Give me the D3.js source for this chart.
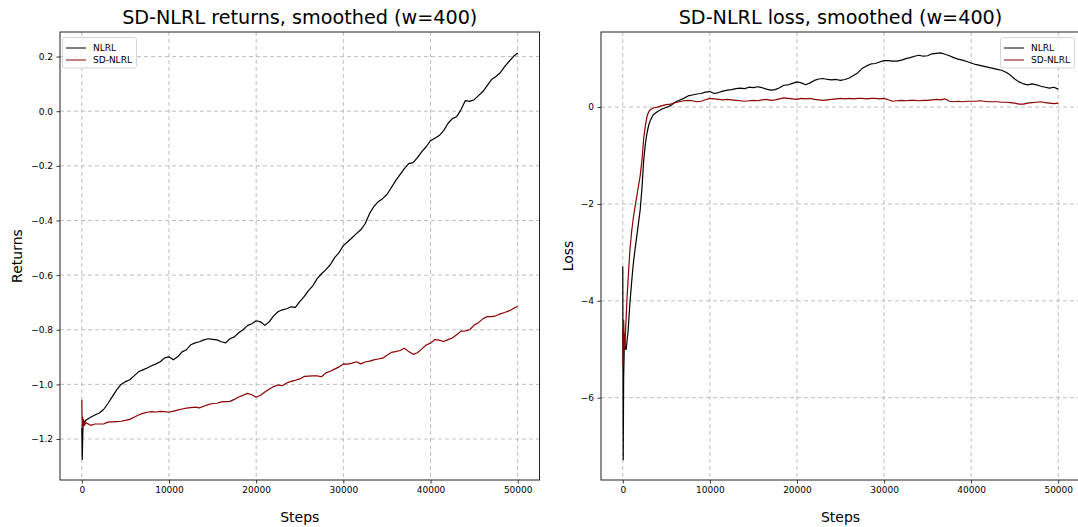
<!DOCTYPE html>
<html><head><meta charset="utf-8">
<script src="https://cdn.jsdelivr.net/npm/d3@7"></script>
<style>body{margin:0;background:#fff}svg{display:block;font-family:"DejaVu Sans",sans-serif}</style>
</head><body><svg id="c" width="1078" height="527"></svg>
<script>
// ---- data ----
const seriesNames = ["NLRL", "SD-NLRL"];
const seriesColors = ["#000000", "#8b0000"];
const xTicks = [0, 10000, 20000, 30000, 40000, 50000];
const returnTicks = [-1.2, -1.0, -0.8, -0.6, -0.4, -0.2, 0.0, 0.2];
const lossTicks = [-6, -4, -2, 0];

const returnSteps = [0,50,100,150,200,300,500,1000,1500,2000,2500,3000,3500,4000,4500,5000,5500,6000,6500,7000,7500,8000,8500,9000,9500,10000,10500,11000,11500,12000,12500,13000,13500,14000,14500,15000,15500,16000,16500,17000,17500,18000,18500,19000,19500,20000,20500,21000,21500,22000,22500,23000,23500,24000,24500,25000,25500,26000,26500,27000,27500,28000,28500,29000,29500,30000,30500,31000,31500,32000,32500,33000,33500,34000,34500,35000,35500,36000,36500,37000,37500,38000,38500,39000,39500,40000,40500,41000,41500,42000,42500,43000,43500,44000,44500,45000,45500,46000,46500,47000,47500,48000,48500,49000,49500,50000];
const returnsNLRL = [-1.16,-1.275,-1.20,-1.14,-1.13,-1.14,-1.13,-1.12,-1.112,-1.105,-1.092,-1.07,-1.045,-1.02,-1.0,-0.99,-0.983,-0.969,-0.954,-0.947,-0.94,-0.932,-0.925,-0.917,-0.903,-0.899,-0.910,-0.899,-0.881,-0.873,-0.855,-0.848,-0.844,-0.837,-0.833,-0.835,-0.837,-0.844,-0.848,-0.833,-0.826,-0.811,-0.800,-0.785,-0.778,-0.767,-0.771,-0.784,-0.771,-0.749,-0.734,-0.727,-0.723,-0.716,-0.718,-0.697,-0.679,-0.657,-0.639,-0.613,-0.595,-0.580,-0.562,-0.536,-0.518,-0.492,-0.478,-0.463,-0.448,-0.434,-0.412,-0.375,-0.349,-0.331,-0.320,-0.305,-0.280,-0.254,-0.232,-0.210,-0.192,-0.188,-0.170,-0.148,-0.130,-0.108,-0.099,-0.089,-0.071,-0.045,-0.027,-0.020,0.006,0.039,0.036,0.042,0.057,0.072,0.094,0.116,0.127,0.141,0.163,0.182,0.200,0.213];
const returnsSD = [-1.056,-1.16,-1.12,-1.15,-1.13,-1.15,-1.14,-1.15,-1.145,-1.145,-1.145,-1.138,-1.137,-1.136,-1.135,-1.132,-1.128,-1.120,-1.112,-1.106,-1.102,-1.100,-1.101,-1.099,-1.100,-1.102,-1.098,-1.094,-1.090,-1.087,-1.085,-1.083,-1.086,-1.080,-1.074,-1.070,-1.069,-1.064,-1.063,-1.062,-1.055,-1.046,-1.040,-1.033,-1.038,-1.047,-1.040,-1.028,-1.018,-1.008,-1.002,-1.005,-0.995,-0.989,-0.985,-0.980,-0.971,-0.970,-0.969,-0.969,-0.972,-0.958,-0.952,-0.944,-0.936,-0.925,-0.926,-0.922,-0.917,-0.925,-0.918,-0.915,-0.910,-0.907,-0.904,-0.893,-0.883,-0.880,-0.876,-0.868,-0.880,-0.890,-0.884,-0.870,-0.856,-0.849,-0.836,-0.838,-0.843,-0.836,-0.830,-0.818,-0.805,-0.804,-0.800,-0.783,-0.774,-0.760,-0.752,-0.752,-0.749,-0.742,-0.737,-0.731,-0.722,-0.714];

const lossSteps = [0,50,100,200,300,400,500,600,800,1000,1200,1400,1600,1800,2000,2200,2400,2600,2800,3000,3200,3500,4000,4500,5000,5500,6000,6500,7000,7500,8000,8500,9000,9500,10000,10500,11000,11500,12000,12500,13000,13500,14000,14500,15000,15500,16000,16500,17000,17500,18000,18500,19000,19500,20000,20500,21000,21500,22000,22500,23000,23500,24000,24500,25000,25500,26000,26500,27000,27500,28000,28500,29000,29500,30000,30500,31000,31500,32000,32500,33000,33500,34000,34500,35000,35500,36000,36500,37000,37500,38000,38500,39000,39500,40000,40500,41000,41500,42000,42500,43000,43500,44000,44500,45000,45500,46000,46500,47000,47500,48000,48500,49000,49500,50000];
const lossNLRL = [-3.29,-7.28,-5.6,-4.7,-5.0,-5.0,-4.8,-4.65,-4.1,-3.65,-3.25,-2.95,-2.68,-2.4,-2.12,-1.68,-1.1,-0.75,-0.52,-0.36,-0.26,-0.16,-0.09,-0.04,-0.01,0.03,0.10,0.14,0.18,0.23,0.25,0.27,0.28,0.31,0.32,0.28,0.30,0.33,0.35,0.36,0.38,0.39,0.38,0.41,0.40,0.42,0.40,0.37,0.35,0.36,0.40,0.45,0.46,0.49,0.52,0.50,0.46,0.50,0.55,0.58,0.59,0.57,0.56,0.57,0.55,0.57,0.60,0.65,0.71,0.80,0.85,0.89,0.90,0.93,0.96,0.96,0.95,0.95,0.97,1.00,1.02,1.05,1.07,1.05,1.06,1.10,1.11,1.12,1.09,1.06,1.02,0.99,0.97,0.94,0.91,0.88,0.86,0.84,0.82,0.80,0.78,0.76,0.72,0.66,0.58,0.52,0.48,0.46,0.48,0.46,0.43,0.41,0.39,0.41,0.37];
const lossSD = [-4.6,-5.35,-4.4,-5.0,-4.7,-4.3,-3.9,-3.6,-3.0,-2.6,-2.3,-2.07,-1.85,-1.63,-1.42,-1.1,-0.65,-0.38,-0.18,-0.09,-0.05,-0.02,0.0,0.03,0.05,0.06,0.09,0.11,0.13,0.14,0.13,0.11,0.12,0.15,0.18,0.17,0.16,0.15,0.16,0.15,0.14,0.13,0.12,0.13,0.14,0.13,0.15,0.16,0.14,0.15,0.17,0.19,0.18,0.17,0.16,0.18,0.17,0.18,0.16,0.15,0.14,0.15,0.16,0.17,0.18,0.17,0.18,0.17,0.18,0.18,0.17,0.18,0.18,0.17,0.18,0.15,0.12,0.13,0.14,0.13,0.14,0.14,0.13,0.14,0.14,0.15,0.16,0.15,0.17,0.12,0.11,0.12,0.11,0.12,0.12,0.12,0.13,0.12,0.11,0.11,0.11,0.10,0.10,0.09,0.08,0.06,0.06,0.08,0.09,0.10,0.11,0.09,0.08,0.07,0.08];

// ---- drawing ----
const svg = d3.select("#c");
const fmtMinus = s => s.replace("-", "\u2212");

function panel(opt) {
  const x = d3.scaleLinear().domain([-2500, 52500]).range([opt.x0, opt.x1]);
  const y = d3.scaleLinear().domain(opt.yDomain).range([opt.y1, opt.y0]);
  const g = svg.append("g");
  const clipId = "clip" + opt.id;
  svg.append("clipPath").attr("id", clipId).append("rect")
    .attr("x", opt.x0).attr("y", opt.y0).attr("width", opt.x1 - opt.x0).attr("height", opt.y1 - opt.y0);
  // grid
  const grid = g.append("g").attr("clip-path", `url(#${clipId})`);
  grid.selectAll(".gx").data(xTicks).join("line")
    .attr("x1", d => x(d)).attr("x2", d => x(d)).attr("y1", opt.y0).attr("y2", opt.y1)
    .attr("stroke", "#b8b8b8").attr("stroke-width", 0.9).attr("stroke-dasharray", "4,3");
  grid.selectAll(".gy").data(opt.yTicks).join("line")
    .attr("x1", opt.x0).attr("x2", opt.x1).attr("y1", d => y(d)).attr("y2", d => y(d))
    .attr("stroke", "#b8b8b8").attr("stroke-width", 0.9).attr("stroke-dasharray", "4,3");
  // lines
  const line = d3.line().x((d, i) => x(opt.steps[i])).y(d => y(d));
  const lines = g.append("g").attr("clip-path", `url(#${clipId})`);
  opt.series.forEach((s, i) => {
    lines.append("path").datum(s).attr("d", line).attr("fill", "none")
      .attr("stroke", seriesColors[i]).attr("stroke-width", 1.2).attr("stroke-linejoin", "round");
  });
  // axes
  const xa = g.append("g").attr("transform", `translate(0,${opt.y1})`)
    .call(d3.axisBottom(x).tickValues(xTicks).tickSize(3.5).tickPadding(3.5).tickFormat(d3.format("d")));
  const ya = g.append("g").attr("transform", `translate(${opt.x0},0)`)
    .call(d3.axisLeft(y).tickValues(opt.yTicks).tickSize(3.5).tickPadding(3.5).tickFormat(d => fmtMinus(opt.fmt(d))));
  [xa, ya].forEach(a => {
    a.select(".domain").remove();
    a.selectAll("text").attr("font-size", 9).attr("fill", "#000").attr("font-family", "DejaVu Sans");
    a.selectAll("line").attr("stroke", "#000").attr("stroke-width", 0.8);
  });
  // frame
  g.append("rect").attr("x", opt.x0).attr("y", opt.y0).attr("width", opt.x1 - opt.x0).attr("height", opt.y1 - opt.y0)
    .attr("fill", "none").attr("stroke", "#222").attr("stroke-width", 1);
  // title & labels
  g.append("text").attr("x", (opt.x0 + opt.x1) / 2).attr("y", 24).attr("text-anchor", "middle")
    .attr("font-size", 19.2).text(opt.title);
  g.append("text").attr("x", (opt.x0 + opt.x1) / 2).attr("y", 522).attr("text-anchor", "middle")
    .attr("font-size", 14).text("Steps");
  g.append("text").attr("transform", `translate(${opt.ylabX},${(opt.y0 + opt.y1) / 2}) rotate(-90)`)
    .attr("text-anchor", "middle").attr("font-size", 14).text(opt.ylabel);
  // legend
  const lg = g.append("g").attr("transform", `translate(${opt.legX},${opt.y0 + 5.5})`);
  lg.append("rect").attr("x", 0).attr("y", 0).attr("width", 74).attr("height", 30.5).attr("rx", 2)
    .attr("fill", "#fff").attr("fill-opacity", 0.8).attr("stroke", "#ccc").attr("stroke-width", 0.8);
  seriesNames.forEach((n, i) => {
    const yy = 10.5 + i * 12;
    lg.append("line").attr("x1", 3.5).attr("x2", 23.5).attr("y1", yy).attr("y2", yy)
      .attr("stroke", seriesColors[i]).attr("stroke-width", 1);
    lg.append("text").attr("x", 30.5).attr("y", yy + 3.2).attr("font-size", 9).text(n);
  });
}

panel({id: "a", x0: 60, x1: 539.5, y0: 32, y1: 480, yDomain: [-1.35, 0.29], yTicks: returnTicks,
  fmt: d3.format(".1f"), steps: returnSteps, series: [returnsNLRL, returnsSD],
  title: "SD-NLRL returns, smoothed (w=400)", ylabel: "Returns", ylabX: 22, legX: 62.5});
panel({id: "b", x0: 601, x1: 1080, y0: 32, y1: 480, yDomain: [-7.70, 1.55], yTicks: lossTicks,
  fmt: d3.format("d"), steps: lossSteps, series: [lossNLRL, lossSD],
  title: "SD-NLRL loss, smoothed (w=400)", ylabel: "Loss", ylabX: 573, legX: 1000.5});
</script></body></html>
